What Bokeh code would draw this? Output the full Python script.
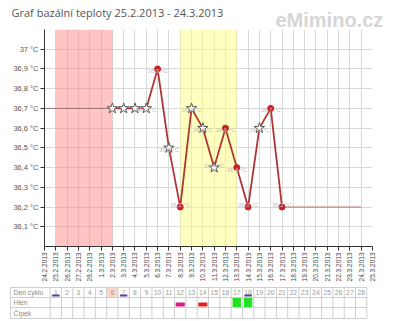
import math
from bokeh.plotting import figure
from bokeh.models import (ColumnDataSource, FixedTicker, BoxAnnotation,
                          LabelSet, Range1d)
from bokeh.layouts import column
from bokeh.embed import file_html
from bokeh.resources import INLINE
from bokeh.core.properties import value

# ---------------- data ----------------
title_text = "Graf bazální teploty 25.2.2013 - 24.3.2013"
watermark = "eMimino.cz"

dates = ["24.2.2013", "25.2.2013", "26.2.2013", "27.2.2013", "28.2.2013",
         "1.3.2013", "2.3.2013", "3.3.2013", "4.3.2013", "5.3.2013",
         "6.3.2013", "7.3.2013", "8.3.2013", "9.3.2013", "10.3.2013",
         "11.3.2013", "12.3.2013", "13.3.2013", "14.3.2013", "15.3.2013",
         "16.3.2013", "17.3.2013", "18.3.2013", "19.3.2013", "20.3.2013",
         "21.3.2013", "22.3.2013", "23.3.2013", "24.3.2013", "25.3.2013"]

meas_dates = ["2.3.2013", "3.3.2013", "4.3.2013", "5.3.2013", "6.3.2013",
              "7.3.2013", "8.3.2013", "9.3.2013", "10.3.2013", "11.3.2013",
              "12.3.2013", "13.3.2013", "14.3.2013", "15.3.2013", "16.3.2013",
              "17.3.2013"]
temps = [36.7, 36.7, 36.7, 36.7, 36.9, 36.5, 36.2, 36.7, 36.6, 36.4,
         36.6, 36.4, 36.2, 36.6, 36.7, 36.2]
uncertain = [True, True, True, True, False, True, False, True, True, True,
             False, False, False, True, False, False]
labeled = [False, False, False, True, True, True, True, True, True, True,
           True, True, True, True, True, True]

pre_dates = ["24.2.2013", "2.3.2013"]
pre_temps = [36.7, 36.7]
post_dates = ["17.3.2013", "24.3.2013"]
post_temps = [36.2, 36.2]

menses = ("25.2.2013", "2.3.2013")
fertile = ("8.3.2013", "13.3.2013")

y_ticks = [36.1, 36.2, 36.3, 36.4, 36.5, 36.6, 36.7, 36.8, 36.9, 37.0]
y_labels = ["36,1 °C", "36,2 °C", "36,3 °C", "36,4 °C", "36,5 °C",
            "36,6 °C", "36,7 °C", "36,8 °C", "36,9 °C", "37 °C"]

cycle_days = list(range(1, 29))
cycle_start = "25.2.2013"
marked_days = [1, 7, 18]
highlight_day = 6
hlen_days = [12, 14, 17, 18]
hlen_types = ["magenta", "red", "green", "green"]
row_names = ["Den cyklu", "Hlen", "Čípek"]

# ---------------- helpers ----------------
idx = {d: i for i, d in enumerate(dates)}
FONT = "Liberation Sans"
W = 400
FRAME_W, FRAME_H = 328, 217
LEFT, RIGHT, HEAD, BOTTOM = 44, 28, 29, 39

# ---------------- header ----------------
h = figure(width=W, height=HEAD, x_range=Range1d(0, W), y_range=Range1d(0, HEAD),
           min_border=0, output_backend="svg", toolbar_location=None,
           outline_line_color=None, x_axis_location=None, y_axis_location=None,
           background_fill_color="white", border_fill_color="white")
h.frame_align = False
h.grid.visible = False
h.text(x=[11], y=[HEAD - 12], text=[title_text], text_font=value("Open Sans"),
       text_font_size="11px", text_color="#555555", text_baseline="middle",
       text_align="left")
h.text(x=[275], y=[HEAD - 19], text=[watermark], text_font=value("Liberation Sans"),
       text_font_size="20px", text_font_style="bold", text_color="#d6d6d6",
       text_baseline="middle", text_align="left")

# ---------------- main chart ----------------
p = figure(frame_width=FRAME_W, frame_height=FRAME_H,
           min_border_left=LEFT, min_border_right=RIGHT,
           min_border_top=0, min_border_bottom=BOTTOM,
           x_range=Range1d(0, len(dates) - 1), y_range=Range1d(36.0, 37.1),
           output_backend="svg", toolbar_location=None,
           outline_line_color=None, background_fill_color="white",
           border_fill_color="white")
p.frame_align = False

p.add_layout(BoxAnnotation(left=idx[menses[0]], right=idx[menses[1]],
                           fill_color="#ff8c8c", fill_alpha=0.5,
                           line_color=None, level="underlay"))
p.add_layout(BoxAnnotation(left=idx[fertile[0]], right=idx[fertile[1]],
                           fill_color="#ffff80", fill_alpha=0.5,
                           line_color=None, level="underlay"))

p.xgrid.ticker = FixedTicker(ticks=list(range(len(dates))))
p.ygrid.ticker = FixedTicker(ticks=y_ticks)
p.xgrid.grid_line_color = "#d9d9d9"
p.ygrid.grid_line_color = "#d9d9d9"

p.xaxis.ticker = FixedTicker(ticks=list(range(len(dates))))
p.xaxis.major_label_overrides = {i: d for i, d in enumerate(dates)}
p.xaxis.major_label_orientation = math.pi / 2
p.xaxis.major_label_text_font_size = "6.5px"
p.xaxis.major_label_text_font = FONT
p.xaxis.major_label_text_color = "#444444"
p.xaxis.major_label_standoff = 2
p.xaxis.major_tick_out = 4
p.xaxis.major_tick_in = 0
p.xaxis.minor_tick_line_color = None
p.xaxis.axis_line_color = "#333333"
p.xaxis.major_tick_line_color = "#333333"

p.yaxis.ticker = FixedTicker(ticks=y_ticks)
p.yaxis.major_label_overrides = {t: l for t, l in zip(y_ticks, y_labels)}
p.yaxis.major_label_text_font_size = "7.5px"
p.yaxis.major_label_text_font = FONT
p.yaxis.major_label_text_color = "#555555"
p.yaxis.major_label_standoff = 2
p.yaxis.major_tick_out = 4
p.yaxis.major_tick_in = 0
p.yaxis.minor_tick_line_color = None
p.yaxis.axis_line_color = "#333333"
p.yaxis.major_tick_line_color = "#333333"

p.line([idx[d] for d in pre_dates], pre_temps, line_color="#9a7575", line_width=1)
p.line([idx[d] for d in post_dates], post_temps, line_color="#b07070", line_width=1)

mx = [idx[d] for d in meas_dates]
p.line(mx, temps, line_color="#b03535", line_width=1.8)

sx = [x for x, u in zip(mx, uncertain) if u]
sy = [t for t, u in zip(temps, uncertain) if u]
cx = [x for x, u in zip(mx, uncertain) if not u]
cy = [t for t, u in zip(temps, uncertain) if not u]
p.scatter(cx, cy, marker="circle", size=6, fill_color="#cc2020", line_color="#cc2020")
p.scatter(sx, sy, marker="star", size=11, fill_color="white", line_color="#555555",
          line_width=1)

above = dict(x=[], y=[], t=[])
below = dict(x=[], y=[], t=[])
for i, (x, t, show) in enumerate(zip(mx, temps, labeled)):
    if not show:
        continue
    txt = f"{t:.1f}".replace(".", ",") + " °C"
    prev_t = temps[i - 1] if i > 0 else t
    next_t = temps[i + 1] if i < len(temps) - 1 else t + 1
    tgt = below if (t < prev_t and t < next_t) else above
    tgt["x"].append(x); tgt["y"].append(t); tgt["t"].append(txt)

for src, base, off in ((above, "bottom", -5), (below, "top", 5)):
    p.add_layout(LabelSet(x="x", y="y", text="t", source=ColumnDataSource(src),
                          text_align="center", text_baseline=base, y_offset=off,
                          text_font_size="6px", text_font=value(FONT),
                          text_color="#c2c2c2"))

# ---------------- table ----------------
px_per = FRAME_W / (len(dates) - 1)
tx0 = -LEFT / px_per
tx1 = (W - LEFT) / px_per
TH = 36
t = figure(width=W, height=TH, x_range=Range1d(tx0, tx1), y_range=Range1d(0, TH),
           min_border=0, output_backend="svg", toolbar_location=None,
           outline_line_color=None, x_axis_location=None, y_axis_location=None,
           background_fill_color="white", border_fill_color="white")
t.frame_align = False
t.grid.visible = False

day0 = idx[cycle_start]
def sxd(sx_px):
    return tx0 + sx_px / px_per

left_edge = sxd(10)
right_edge = day0 + len(cycle_days) - 1 + 0.5

hx = day0 + highlight_day - 1
t.quad(left=[hx - 0.5], right=[hx + 0.5], bottom=[24], top=[34],
       fill_color="#fcd5cb", line_color=None)

hy = [34, 24, 14, 3]
t.multi_line(xs=[[left_edge, right_edge] for _ in hy], ys=[[y, y] for y in hy],
             line_color="#cfcfcf", line_width=1)
vxs = [left_edge] + [day0 + k - 0.5 for k in range(len(cycle_days) + 1)]
t.multi_line(xs=[[x, x] for x in vxs], ys=[[3, 34] for _ in vxs],
             line_color="#cfcfcf", line_width=1)

t.text(x=[sxd(13)] * 3, y=[29, 19, 8.5], text=row_names, text_font=value(FONT),
       text_font_size="6.8px", text_color="#8a8a8a", text_baseline="middle",
       text_align="left")
t.text(x=[day0 + d - 1 for d in cycle_days], y=[29] * len(cycle_days),
       text=[str(d) for d in cycle_days], text_font=value(FONT),
       text_font_size="6.8px", text_color="#9a9a9a", text_baseline="middle",
       text_align="center")
t.multi_line(xs=[[day0 + d - 1 - 0.33, day0 + d - 1 + 0.33] for d in marked_days],
             ys=[[26, 26] for _ in marked_days], line_color="#5b3ea0", line_width=2)

hstyle = {"magenta": ("#d81b7f", 15, 19, 0.4), "red": ("#e02020", 15, 19, 0.4),
          "green": ("#22e022", 14.5, 23.5, 0.37)}
for d, ty in zip(hlen_days, hlen_types):
    col, b, tp, w = hstyle[ty]
    xc = day0 + d - 1
    t.quad(left=[xc - w], right=[xc + w], bottom=[b], top=[tp],
           fill_color=col, line_color=None)

layout = column(h, p, t, spacing=0)
open("out.html", "w").write(file_html(layout, INLINE))
